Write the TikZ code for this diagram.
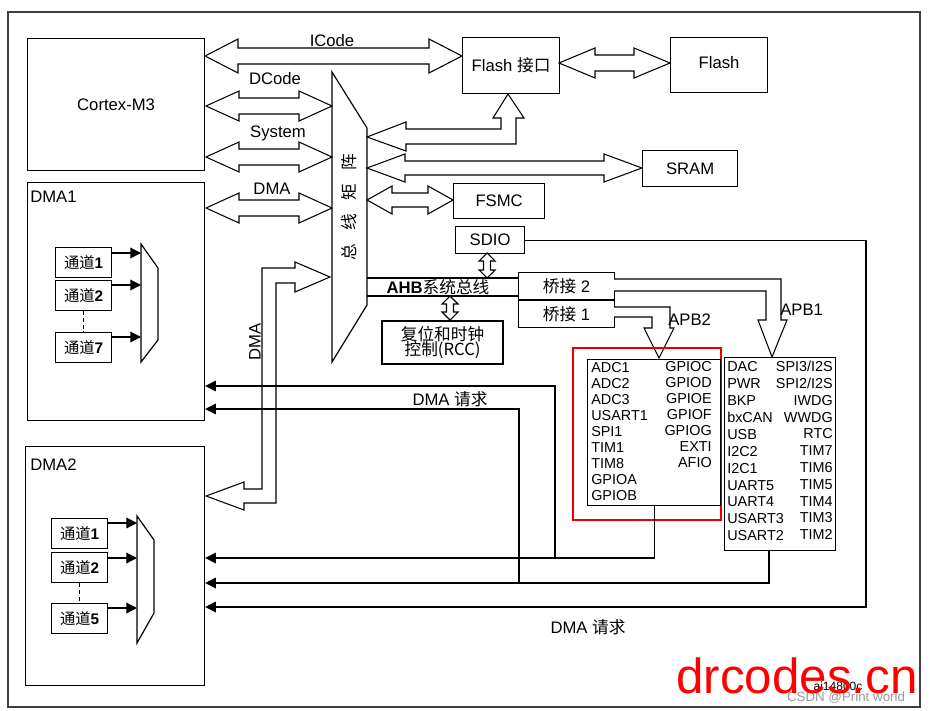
\documentclass[tikz,border=0pt]{standalone}
\usepackage{fontspec}
\setmainfont{Liberation Sans}
\newfontfamily\cjk{Noto Sans CJK SC}
\usetikzlibrary{arrows.meta}
\newcommand\bx[7][]{\node[box,anchor=north west,minimum width={(#5-#3)*0.75pt},minimum height={(#6-#4)*0.75pt},align=center,#1] (#2) at (#3,#4) {#7};}
% horizontal double fat arrow: x1,x2,y,shaft half,head half,head len
\newcommand\fatH[6]{\draw[fat] (#1,#3) -- ({#1+#6},{#3-#5}) -- ({#1+#6},{#3-#4}) -- ({#2-#6},{#3-#4}) -- ({#2-#6},{#3-#5}) -- (#2,#3) -- ({#2-#6},{#3+#5}) -- ({#2-#6},{#3+#4}) -- ({#1+#6},{#3+#4}) -- ({#1+#6},{#3+#5}) -- cycle;}
\newcommand\fatV[6]{\draw[fat] (#3,#1) -- ({#3-#5},{#1+#6}) -- ({#3-#4},{#1+#6}) -- ({#3-#4},{#2-#6}) -- ({#3-#5},{#2-#6}) -- (#3,#2) -- ({#3+#5},{#2-#6}) -- ({#3+#4},{#2-#6}) -- ({#3+#4},{#1+#6}) -- ({#3+#5},{#1+#6}) -- cycle;}
\begin{document}
\begin{tikzpicture}[x=0.75pt,y=-0.75pt,
 box/.style={draw,line width=0.9pt,inner sep=0pt,font=\fontsize{12.5}{14}\selectfont},
 lbl/.style={font=\fontsize{12.5}{14}\selectfont,inner sep=0pt},
 fat/.style={draw,line width=0.8pt,fill=white,line join=miter},
 req/.style={line width=0.9pt},
 reqa/.style={req,-{Triangle[length=8pt,width=8pt]}},
 ch/.style={box,font=\fontsize{11.5}{13}\selectfont},
 item/.style={font=\fontsize{10.8}{12}\selectfont,inner sep=0pt}]
\useasboundingbox (0,0) rectangle (930,710);
\fill[white] (0,0) rectangle (930,710);
\draw[line width=0.9pt,black!75] (8,12) rectangle (920,707);

% main boxes
\bx{cortex}{27}{38}{204}{170}{Cortex-M3}
\bx{dma1}{27}{182}{204}{420}{}
\bx{dma2}{25}{446}{204}{685}{}
\node[lbl,anchor=west] (dma1l) at (30,197) {DMA1};
\node[lbl,anchor=west] (dma2l) at (30,465) {DMA2};
\bx{flashif}{462}{37}{559}{93}{Flash {\cjk 接口}}
\bx{flash}{670}{37}{767}{92}{\raisebox{4pt}{Flash}}
\bx{sram}{642}{150}{737}{186}{SRAM}
\bx{fsmc}{453}{183}{544}{218}{FSMC}
\bx{sdio}{455}{226}{524}{253}{SDIO}
\bx{br2}{518}{272}{614}{299}{{\cjk 桥接} 2}
\bx{br1}{518}{300}{614}{327}{{\cjk 桥接} 1}
\bx[line width=1.6pt]{rcc}{381}{320}{502}{363}{\cjk 复位和时钟\\[-3pt]\cjk 控制(RCC)}

% channels
\bx[ch]{c11}{55}{247}{111}{277}{{\cjk 通道}\textbf{1}}
\bx[ch]{c12}{55}{280}{111}{310}{{\cjk 通道}\textbf{2}}
\bx[ch]{c17}{55}{332}{111}{362}{{\cjk 通道}\textbf{7}}
\bx[ch]{c21}{51}{518}{107}{548}{{\cjk 通道}\textbf{1}}
\bx[ch]{c22}{51}{552}{107}{582}{{\cjk 通道}\textbf{2}}
\bx[ch]{c25}{51}{603}{107}{633}{{\cjk 通道}\textbf{5}}
\draw[line width=0.9pt] (141,244) -- (158,268) -- (158,340) -- (141,362) -- cycle;
\draw[line width=0.9pt] (137,516) -- (154,540) -- (154,613) -- (137,643) -- cycle;
\foreach \y in {253,285,337} \draw[reqa] (111,\y) -- (141,\y);
\foreach \y in {523,558,608} \draw[reqa] (107,\y) -- (137,\y);
\draw[line width=0.9pt,densely dashed] (c12.south) -- (c17.north);
\draw[line width=0.9pt,densely dashed] (c22.south) -- (c25.north);

% bus matrix
\draw[line width=0.9pt] (332,72) -- (367,128) -- (367,305) -- (332,362) -- cycle;
\node[rotate=90,font=\cjk\fontsize{12.5}{14}\selectfont] (bm) at (349,207) {总\hspace{0.8em}线\hspace{0.8em}矩\hspace{0.8em}阵};

% fat arrows
\fatH{205}{462}{56}{8}{17}{33}
\fatH{206}{332}{106}{8}{15}{33}
\fatH{206}{332}{157}{8}{15}{33}
\fatH{206}{332}{208}{8}{15}{33}
\fatH{559}{670}{63}{8}{15}{36}
\fatH{367}{642}{168}{7}{14}{38}
\fatH{367}{453}{200}{7}{14}{25}
\fatV{253}{278}{487}{3.5}{8}{8}
\fatV{296}{320}{450}{3.5}{8}{8}
\draw[fat] (367,137) -- (406,122) -- (406,129) -- (501,129) -- (501,118) -- (493,118) -- (508,94) -- (524,118) -- (516,118) -- (516,144) -- (406,144) -- (406,151) -- cycle;
\draw[fat] (206,496) -- (244,482) -- (244,489) -- (262,489) -- (262,268) -- (295,268) -- (295,262) -- (330,277) -- (295,292) -- (295,283) -- (276,283) -- (276,503) -- (244,503) -- (244,510) -- cycle;

% AHB
\draw[line width=0.9pt] (367,278) -- (br2.west |- 0,278);
\draw[line width=0.9pt] (367,296) -- (br2.west |- 0,296);
\node[lbl] (ahb) at (438,287) {\textbf{AHB}{\cjk 系统总线}};

% APB arrows
\draw[fat] (614,307) -- (670,307) -- (670,328) -- (674,328) -- (659,358) -- (644,328) -- (652,328) -- (652,317) -- (614,317);
\draw[fat] (614,279) -- (781,279) -- (781,320) -- (787,320) -- (772,357) -- (758,320) -- (766,320) -- (766,291) -- (614,291);
\node[lbl,anchor=west] (apb2l) at (668,320) {APB2};
\node[lbl,anchor=west] (apb1l) at (780,310) {APB1};

% APB boxes
\draw[red!90!black,line width=2pt] (573,348) rectangle (721,520);
\bx{apb2}{587}{359}{720}{505}{}
\bx{apb1}{724}{357}{835}{550}{}
\foreach \t [count=\i] in {ADC1,ADC2,ADC3,USART1,SPI1,TIM1,TIM8,GPIOA,GPIOB}
  \node[item,anchor=west] at (591,{351+16.1*\i}) {\t};
\foreach \t [count=\i] in {GPIOC,GPIOD,GPIOE,GPIOF,GPIOG,EXTI,AFIO}
  \node[item,anchor=east] at (712,{351+16*\i}) {\t};
\foreach \t [count=\i] in {DAC,PWR,BKP,bxCAN,USB,I2C2,I2C1,UART5,UART4,USART3,USART2}
  \node[item,anchor=west] at (727,{350+16.9*\i}) {\t};
\foreach \t [count=\i] in {SPI3/I2S,SPI2/I2S,IWDG,WWDG,RTC,TIM7,TIM6,TIM5,TIM4,TIM3,TIM2}
  \node[item,anchor=east] at (833,{350+16.8*\i}) {\t};

% DMA requests
\coordinate (a1) at (769,550);
\draw[reqa] (apb2.south) |- (dma2.east |- 0,558);
\draw[reqa] (a1) |- (dma2.east |- 0,583);
\draw[reqa] (sdio.east) -| (866,607) -- (dma2.east |- 0,607);
\draw[reqa] (555,558) |- (dma1.east |- 0,386);
\draw[reqa] (519,583) |- (dma1.east |- 0,409);

% labels
\node[lbl] (l1) at (332,41) {ICode};
\node[lbl] (l2) at (275,79) {DCode};
\node[lbl] (l3) at (278,133) {System};
\node[lbl] (l4) at (272,189) {DMA};
\node[lbl,rotate=90] (l5) at (255,342) {DMA};
\node[lbl] (l6) at (450,399) {DMA {\cjk 请求}};
\node[lbl] (l7) at (588,627) {DMA {\cjk 请求}};

% watermark
\node[font=\fontsize{9}{11}\selectfont,inner sep=0pt] (w1) at (838,686) {ai14800c};
\node[font=\fontsize{10}{12}\selectfont,text=black!40,inner sep=0pt] (w2) at (846,698) {CSDN @Print world};
\node[font=\fontsize{37}{40}\selectfont,text=red,inner sep=0pt] (w3) at (797,676) {drcodes.cn};
\end{tikzpicture}
\end{document}
